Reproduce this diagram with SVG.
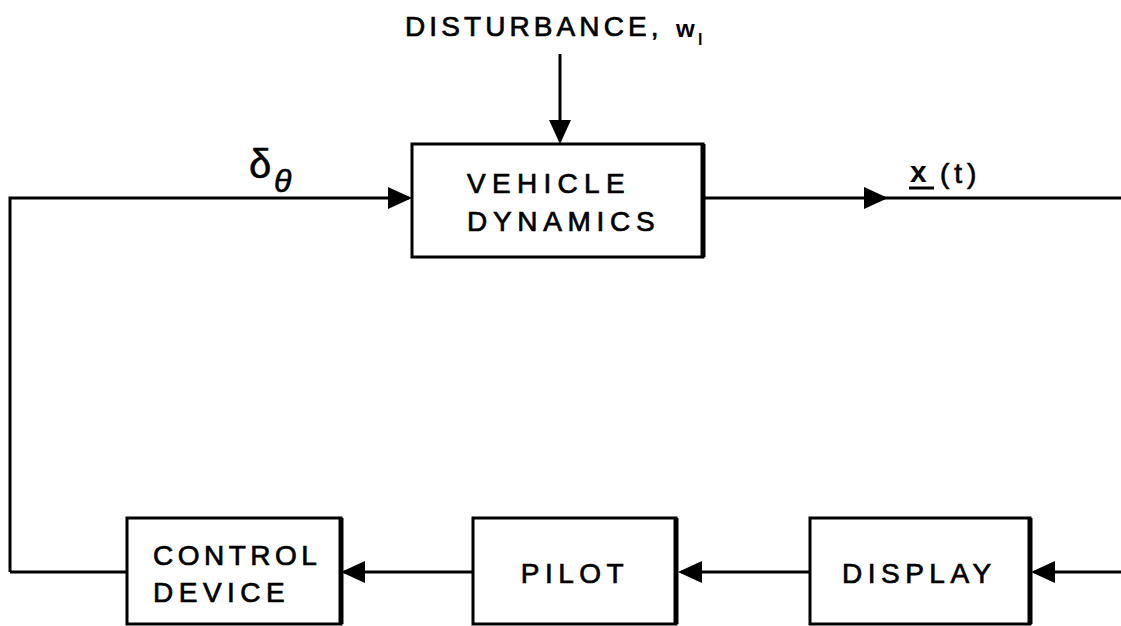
<svg xmlns="http://www.w3.org/2000/svg" width="1121" height="626" viewBox="0 0 1121 626">
<style>
.box{fill:#fff;stroke:#000;stroke-width:3}
.edge{stroke:#000;stroke-width:5;fill:none}
.wire{stroke:#000;stroke-width:3;fill:none}
.lbl{font-family:"Liberation Sans",Arial,sans-serif;font-size:28px;fill:#000;stroke:#000;stroke-width:0.7}
.blk{font-family:"Liberation Sans",Arial,sans-serif;font-weight:bold;fill:#000}
</style>
<defs>
<marker id="ah" markerUnits="userSpaceOnUse" markerWidth="26" markerHeight="24" refX="21" refY="11" orient="auto">
<path d="M0,0 L24,11 L0,22 Z" fill="#000"/>
</marker>
</defs>
<rect width="1121" height="626" fill="#fff"/>
<g id="connectors">
<path class="wire" d="M560,54 L560,141" marker-end="url(#ah)"/>
<path class="wire" d="M10,572 L10,198 L409,198" marker-end="url(#ah)"/>
<path class="wire" d="M880,198 L1121,198"/>
<path class="wire" d="M703,198 L885,198" marker-end="url(#ah)"/>
<path class="wire" d="M10,572 L127,572"/>
<path class="wire" d="M473,572 L344,572" marker-end="url(#ah)"/>
<path class="wire" d="M810,572 L681,572" marker-end="url(#ah)"/>
<path class="wire" d="M1121,572 L1034,572" marker-end="url(#ah)"/>
</g>
<g id="disturbance-label">
<text class="lbl" x="405" y="36" letter-spacing="4.1">DISTURBANCE,</text>
<text class="blk" x="676" y="37" font-size="24">w</text>
<text class="blk" x="698" y="45" font-size="16">l</text>
</g>
<g id="delta-label">
<text x="249" y="178" font-family="Liberation Sans,Arial,sans-serif" font-size="40" stroke="#000" stroke-width="0.6">δ</text>
<text x="274" y="192" font-family="Liberation Sans,Arial,sans-serif" font-size="32" font-style="italic" stroke="#000" stroke-width="0.6">θ</text>
</g>
<g id="x-label">
<text class="blk" x="910" y="182" font-size="30">x</text>
<line x1="909" y1="188" x2="934" y2="188" stroke="#000" stroke-width="3"/>
<text class="lbl" x="940" y="183" font-size="32" letter-spacing="5" stroke-width="1.2">(t)</text>
</g>
<g id="vehicle-dynamics">
<rect class="box" x="412" y="144" width="291" height="113"/>
<line class="edge" x1="703" y1="144" x2="703" y2="257"/>
<text class="lbl" x="467" y="193" letter-spacing="6.3">VEHICLE</text>
<text class="lbl" x="467" y="231" letter-spacing="5.7">DYNAMICS</text>
</g>
<g id="control-device">
<rect class="box" x="127" y="518" width="214" height="106"/>
<line class="edge" x1="341" y1="518" x2="341" y2="624"/>
<text class="lbl" x="153" y="565" letter-spacing="4.5">CONTROL</text>
<text class="lbl" x="153" y="602" letter-spacing="5.5">DEVICE</text>
</g>
<g id="pilot">
<rect class="box" x="473" y="518" width="203" height="106"/>
<line class="edge" x1="676" y1="518" x2="676" y2="624"/>
<text class="lbl" x="575" y="583" text-anchor="middle" letter-spacing="5.5">PILOT</text>
</g>
<g id="display">
<rect class="box" x="810" y="518" width="220" height="106"/>
<line class="edge" x1="1030" y1="518" x2="1030" y2="624"/>
<text class="lbl" x="842" y="583" letter-spacing="5.5">DISPLAY</text>
</g>
</svg>
